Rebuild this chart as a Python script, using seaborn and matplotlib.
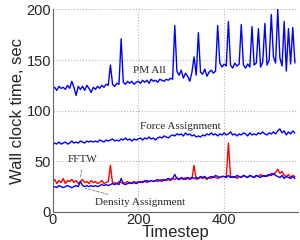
import numpy as np
import pandas as pd
import matplotlib
matplotlib.use("Agg")
import matplotlib.pyplot as plt
import seaborn as sns

# ---------- data (one value every 5 timesteps) ----------
timestep = np.arange(0, 570, 5)

pm_all = [
    121, 123, 120, 124, 122, 123, 121, 125, 122, 129,
    123, 115, 124, 121, 124, 120, 125, 122, 118, 123,
    121, 124, 122, 125, 123, 126, 125, 145, 126, 124,
    127, 126, 171, 128, 126, 129, 127, 129, 126, 128,
    129, 127, 130, 128, 130, 127, 131, 129, 130, 128,
    131, 130, 129, 131, 130, 132, 131, 184, 139, 135,
    140, 132, 137, 134, 129, 138, 153, 135, 177, 138,
    136, 141, 134, 138, 140, 137, 139, 184, 147, 143,
    146, 144, 188, 145, 142, 147, 144, 146, 185, 145,
    142, 146, 143, 183, 145, 147, 181, 143, 148, 186,
    145, 150, 195, 153, 147, 200, 152, 144, 188, 139,
    181, 146, 182, 147,
]

force_assign = [
    66, 68, 67, 69, 67, 68, 69, 67, 68, 70,
    68, 69, 68, 70, 69, 68, 70, 69, 70, 69,
    70, 69, 71, 70, 69, 71, 70, 71, 72, 70,
    71, 70, 72, 71, 73, 71, 72, 70, 72, 71,
    72, 73, 71, 73, 72, 74, 72, 73, 71, 73,
    74, 73, 75, 74, 73, 75, 76, 75, 77, 76,
    77, 75, 78, 76, 77, 75, 76, 74, 75, 74,
    76, 75, 77, 76, 78, 76, 77, 75, 77, 76,
    78, 76, 77, 79, 76, 77, 75, 77, 76, 78,
    77, 75, 78, 76, 77, 76, 78, 77, 79, 77,
    76, 78, 77, 79, 77, 80, 82, 78, 80, 76,
    79, 77, 80, 78,
]

fftw = [
    30, 32, 28, 31, 29, 33, 28, 31, 30, 32,
    29, 31, 28, 30, 32, 29, 30, 28, 31, 29,
    30, 28, 29, 31, 28, 29, 30, 46, 28, 29,
    28, 30, 29, 28, 29, 30, 28, 29, 30, 29,
    30, 29, 30, 31, 29, 30, 31, 30, 31, 30,
    31, 30, 32, 31, 32, 31, 33, 32, 34, 32,
    33, 32, 34, 33, 32, 33, 46, 32, 33, 34,
    33, 34, 32, 34, 33, 35, 34, 33, 34, 35,
    35, 34, 68, 35, 34, 35, 33, 35, 34, 36,
    35, 34, 36, 35, 34, 36, 35, 37, 35, 36,
    35, 36, 38, 37, 39, 42, 38, 40, 36, 35,
    37, 34, 36, 35,
]

density_assign = [
    24, 25, 24, 26, 25, 24, 25, 26, 25, 24,
    25, 26, 25, 30, 26, 25, 26, 25, 26, 25,
    26, 25, 26, 27, 26, 27, 26, 27, 28, 27,
    28, 27, 33, 28, 27, 28, 29, 28, 29, 28,
    29, 30, 29, 30, 31, 30, 31, 30, 31, 32,
    31, 32, 31, 32, 33, 32, 33, 37, 33, 32,
    34, 33, 32, 34, 33, 34, 33, 34, 33, 35,
    34, 35, 33, 34, 35, 34, 36, 35, 34, 35,
    35, 34, 36, 34, 35, 34, 36, 35, 34, 36,
    35, 34, 36, 35, 34, 36, 35, 34, 36, 35,
    36, 37, 36, 38, 36, 35, 34, 36, 33, 35,
    34, 33, 35, 33,
]

df = pd.DataFrame({
    "Timestep": timestep,
    "PM All": pm_all,
    "Force Assignment": force_assign,
    "FFTW": fftw,
    "Density Assignment": density_assign,
})

# ---------- style ----------
sns.set_style("white")
plt.rcParams["font.family"] = ["Liberation Sans", "DejaVu Sans"]

fig = plt.figure(figsize=(3, 2.4), dpi=100)
ax = fig.add_axes([0.175, 0.117, 0.818, 0.844])

for col, c in [("PM All", "blue"), ("Force Assignment", "blue"),
               ("FFTW", "red"), ("Density Assignment", "blue")]:
    sns.lineplot(data=df, x="Timestep", y=col, color=c, lw=1.0, ax=ax,
                 estimator=None)

ax.set_xlim(0, 572)
ax.set_ylim(0, 200)
ax.set_xticks([0, 200, 400])
ax.set_yticks([0, 50, 100, 150, 200])
ax.grid(True, linestyle=":", color="0.7", lw=0.8)
ax.tick_params(direction="in", length=3, labelsize=10.5, pad=1, color="0.4")
for s in ["top", "right"]:
    ax.spines[s].set_visible(False)
for s in ["left", "bottom"]:
    ax.spines[s].set_color("0.4")
    ax.spines[s].set_linewidth(0.8)

ax.set_xlabel("Timestep", fontsize=12, labelpad=-2)
ax.set_ylabel("Wall clock time, sec", fontsize=12, labelpad=1)

# series labels (serif, like the original)
serif = ["Liberation Serif", "DejaVu Serif"]
ax.text(225, 140, "PM All", family=serif, fontsize=8, ha="center", va="center")
ax.text(299, 84, "Force Assignment", family=serif, fontsize=8, ha="center", va="center")
ax.annotate("FFTW", xy=(65, 32), xytext=(70, 52), family=serif, fontsize=8,
            ha="center", va="center",
            arrowprops=dict(arrowstyle="-", linestyle="--", color="0.5", lw=0.6))
ax.annotate("Density Assignment", xy=(70, 24), xytext=(205, 9), family=serif,
            fontsize=8, ha="center", va="center",
            arrowprops=dict(arrowstyle="-", linestyle="--", color="0.5", lw=0.6))

fig.savefig("out.png", dpi=100)
